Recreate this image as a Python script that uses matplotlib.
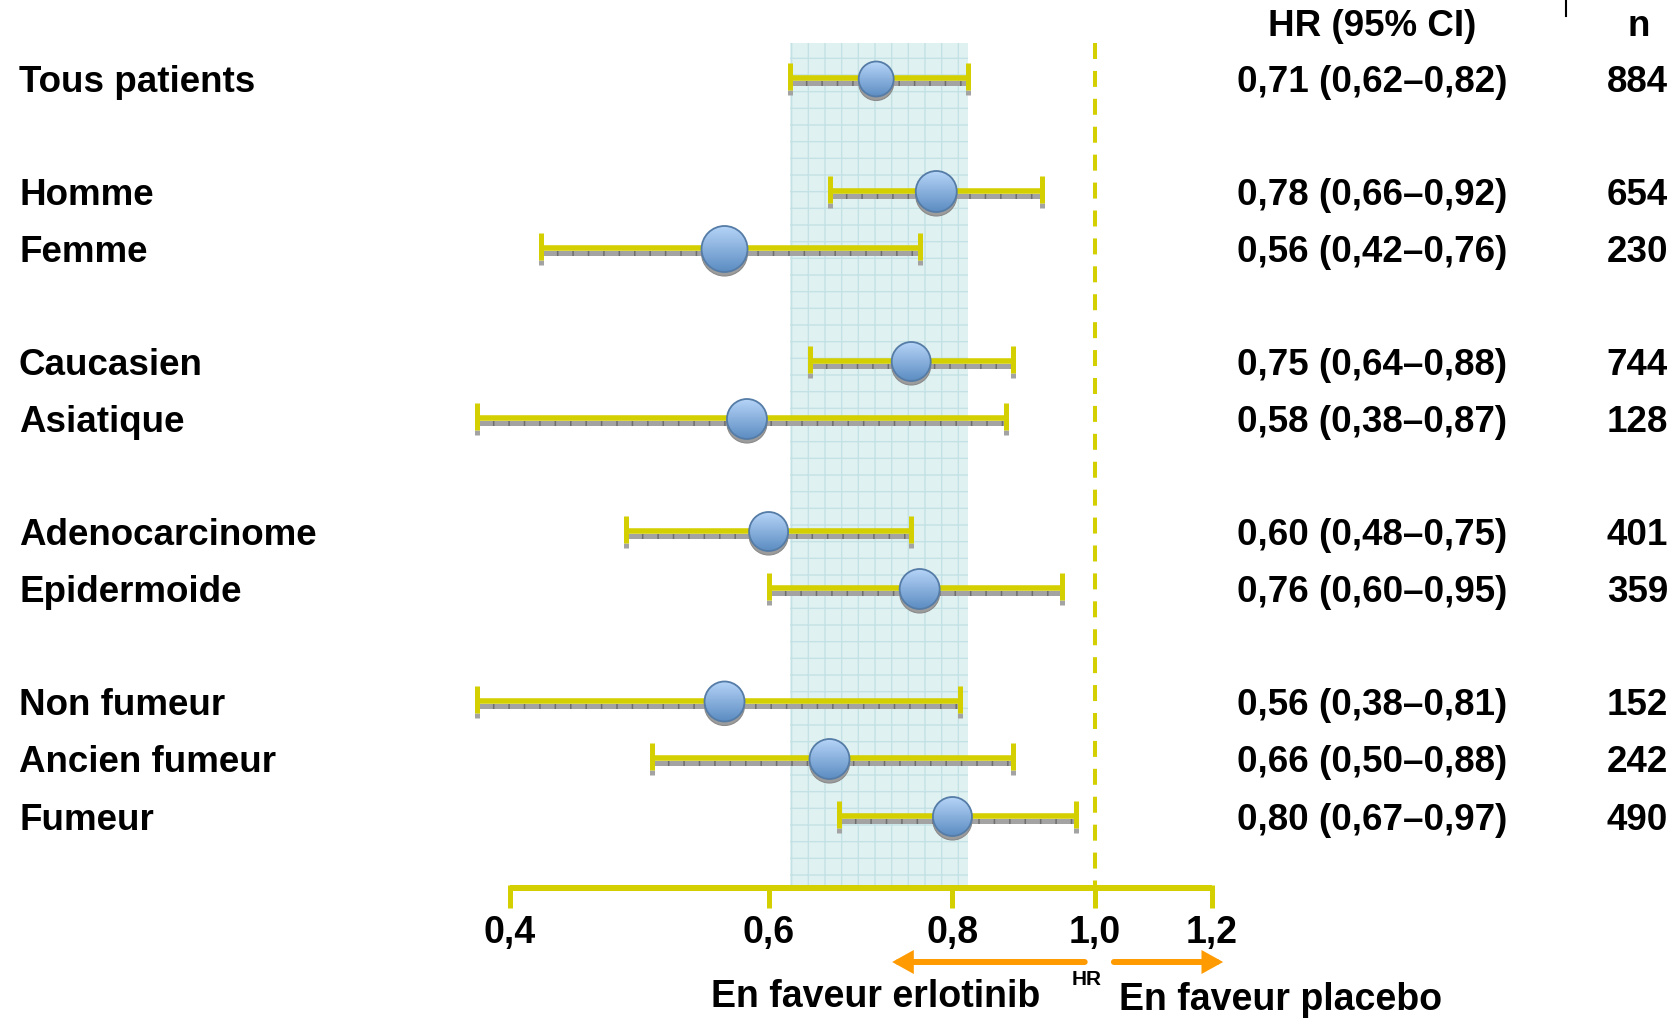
import numpy as np
import matplotlib
matplotlib.use("Agg")
import matplotlib.pyplot as plt
from matplotlib.patches import Circle, Rectangle
from matplotlib.lines import Line2D
from matplotlib.transforms import IdentityTransform

# subgroup hazard ratios (erlotinib vs placebo)
labels = ["Tous patients", "Homme", "Femme", "Caucasien", "Asiatique",
          "Adenocarcinome", "Epidermoide", "Non fumeur", "Ancien fumeur", "Fumeur"]
groups = [0, 1, 1, 2, 2, 3, 3, 4, 4, 4]
hr = [0.71, 0.78, 0.56, 0.75, 0.58, 0.60, 0.76, 0.56, 0.66, 0.80]
ci_lo = [0.62, 0.66, 0.42, 0.64, 0.38, 0.48, 0.60, 0.38, 0.50, 0.67]
ci_hi = [0.82, 0.92, 0.76, 0.88, 0.87, 0.75, 0.95, 0.81, 0.88, 0.97]
n_pat = [884, 654, 230, 744, 128, 401, 359, 152, 242, 490]

ticks = [0.4, 0.6, 0.8, 1.0, 1.2]
tick_labels = ["0,4", "0,6", "0,8", "1,0", "1,2"]

# marker diameters in pixels
marker_px = [35, 41, 46, 39, 40, 39, 40, 40, 40, 39]

YELLOW = "#d3cf00"
GREY = "#a3a3a3"
ORANGE = "#ff9a00"
MAIN = "Liberation Sans"
NARROW = ["Liberation Sans Narrow", "Liberation Sans"]

plt.rcParams["lines.scale_dashes"] = False
plt.rcParams["hatch.linewidth"] = 1.0

fig = plt.figure(figsize=(16.8, 10.2), dpi=100)
ax = fig.add_axes([0, 0, 1, 1])
ax.set_xscale("log")
XLIM = (0.1802, 2.498)
YLIM = (1020, 0)
ax.set_xlim(XLIM)
ax.set_ylim(YLIM)
ax.axis("off")

TOP, ROW_H, GAP = 80, 57.5, 55
rows = [TOP + i * ROW_H + g * GAP for i, g in enumerate(groups)]
BAND_TOP, AXIS_Y = 44, 889

def fmt(v):
    return f"{v:.2f}".replace(".", ",")

# shaded band = overall CI, with a fine grid
ax.add_patch(Rectangle((ci_lo[0], BAND_TOP), ci_hi[0] - ci_lo[0], AXIS_Y - BAND_TOP,
                       facecolor="#e0f1f1", edgecolor="#c4e2e5", hatch="+",
                       linewidth=0, zorder=0))

# no-effect line
ax.plot([1.0, 1.0], [BAND_TOP, AXIS_Y], color=YELLOW, lw=2.9,
        linestyle=(0, (11.5, 8.6)), zorder=1)

# CI bars: yellow rail over a grey ruler strip
for y, lo, hi in zip(rows, ci_lo, ci_hi):
    ax.plot([lo, hi], [y + 4, y + 4], color=GREY, lw=3.6, solid_capstyle="butt", zorder=2)
    ax.plot([lo, hi], [y + 4, y + 4], color="#6e6e6e", lw=3.6,
            linestyle=(0, (1.1, 10)), zorder=2)
    ax.plot([lo, hi], [y - 1, y - 1], color=YELLOW, lw=4.0, solid_capstyle="butt", zorder=3)
    for x in (lo, hi):
        ax.plot([x, x], [y + 11, y + 16], color=GREY, lw=3.6, solid_capstyle="butt", zorder=3)
        ax.plot([x, x], [y - 16, y + 11], color=YELLOW, lw=3.6, solid_capstyle="butt", zorder=3)

# point estimates as shaded discs
centers = [ax.transData.transform((h, y)) for h, y in zip(hr, rows)]
light = np.array([0.71, 0.83, 0.97])
dark = np.array([0.36, 0.55, 0.76])
grad = np.linspace(dark, light, 64)[:, None, :]
for (cx, cy), d in zip(centers, marker_px):
    r = d / 2
    ax.add_patch(Circle((cx, cy - 4), r, transform=IdentityTransform(),
                        facecolor="#9c9c9c", edgecolor="#8a8a8a", lw=0.8, zorder=4))
    im = ax.imshow(grad, extent=(cx - r, cx + r, cy - r, cy + r), origin="lower",
                   transform=IdentityTransform(), aspect="auto",
                   interpolation="bilinear", zorder=5)
    im.set_clip_path(Circle((cx, cy), r, transform=IdentityTransform()))
    ax.add_patch(Circle((cx, cy), r, transform=IdentityTransform(),
                        facecolor="none", edgecolor="#557ca6", lw=1.3, zorder=6))

ax.set_xlim(XLIM)
ax.set_ylim(YLIM)

# x axis drawn by hand
ax.plot([ticks[0], ticks[-1]], [AXIS_Y, AXIS_Y], color=YELLOW, lw=4.3,
        solid_capstyle="butt", zorder=3)
for t, tl in zip(ticks, tick_labels):
    ax.plot([t, t], [AXIS_Y - 3, AXIS_Y + 20], color=YELLOW, lw=3.6,
            solid_capstyle="butt", zorder=3)
    ax.text(t, 933, tl, ha="center", va="center", fontsize=27,
            fontweight="bold", family=NARROW)

# direction arrows
arrow_kw = dict(arrowstyle="-|>,head_length=0.9,head_width=0.5", color=ORANGE,
                lw=4.3, shrinkA=0, shrinkB=0, joinstyle="miter")
ax.annotate("", xy=(0.728, 963), xytext=(0.984, 963), arrowprops=arrow_kw)
ax.annotate("", xy=(1.222, 963), xytext=(1.03, 963), arrowprops=arrow_kw)
ax.text(0.987, 980, "HR", ha="center", va="center", fontsize=15,
        fontweight="bold", family=NARROW)
ax.text(0.709, 997, "En faveur erlotinib", ha="center", va="center", fontsize=27,
        fontweight="bold", family=NARROW)
ax.text(1.336, 1000, "En faveur placebo", ha="center", va="center", fontsize=27,
        fontweight="bold", family=NARROW)

# row labels and table columns
FS = 26.5
X_LABEL, X_HR, X_N = 19 / 1680, 1372 / 1680, 1668 / 1680
fig.text(X_HR, 1 - 27 / 1020, "HR (95% CI)", ha="center", va="center",
         fontsize=FS, fontweight="bold", family=MAIN)
fig.text(1639 / 1680, 1 - 27 / 1020, "n", ha="center", va="center",
         fontsize=FS, fontweight="bold", family=MAIN)
for lab, y, h, lo, hi, n in zip(labels, rows, hr, ci_lo, ci_hi, n_pat):
    yf = 1 - (y + 3) / 1020
    fig.text(X_LABEL, yf, lab, ha="left", va="center", fontsize=FS,
             fontweight="bold", family=MAIN)
    fig.text(X_HR, yf, f"{fmt(h)} ({fmt(lo)}\u2013{fmt(hi)})", ha="center",
             va="center", fontsize=FS, fontweight="bold", family=MAIN)
    fig.text(X_N, yf, str(n), ha="right", va="center", fontsize=FS,
             fontweight="bold", family=MAIN)

fig.add_artist(Line2D([1566 / 1680] * 2, [1, 1 - 17 / 1020], color="black",
                      lw=1.5, transform=fig.transFigure))

fig.savefig("out.png", dpi=100)
